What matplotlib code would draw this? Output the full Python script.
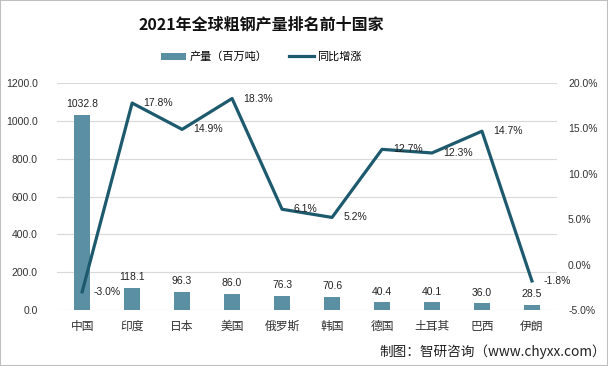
# 2021年全球粗钢产量排名前十国家 - bar + line combo chart

import matplotlib
matplotlib.use('Agg')
import matplotlib.pyplot as plt
from matplotlib.ticker import FuncFormatter
from matplotlib.patches import Rectangle

plt.rcParams['font.family'] = ['Liberation Sans', 'Noto Sans CJK SC', 'DejaVu Sans']

# Data
countries = ['中国', '印度', '日本', '美国', '俄罗斯', '韩国', '德国', '土耳其', '巴西', '伊朗']
production = [1032.8, 118.1, 96.3, 86.0, 76.3, 70.6, 40.4, 40.1, 36.0, 28.5]  # 百万吨
growth = [-3.0, 17.8, 14.9, 18.3, 6.1, 5.2, 12.7, 12.3, 14.7, -1.8]  # %

bar_color = '#5b8fa3'
line_color = '#1d5a6d'
cjk = ['Noto Sans CJK SC', 'DejaVu Sans']

fig = plt.figure(figsize=(6.08, 3.66), dpi=100)
ax1 = fig.add_axes([0.094, 0.153, 0.822, 0.620])
ax2 = ax1.twinx()

x = list(range(len(countries)))

# Bars: production
ax1.bar(x, production, width=0.32, color=bar_color, zorder=2, label='产量（百万吨）')
for xi, v in zip(x, production):
    ax1.annotate(f'{v:.1f}', (xi, v), xytext=(0, 4), textcoords='offset points',
                 ha='center', va='bottom', fontsize=7.5, color='#222222')

ax1.set_xlim(-0.5, len(countries) - 0.5)
ax1.set_ylim(0, 1200)
ax1.set_yticks(range(0, 1201, 200))
ax1.yaxis.set_major_formatter(FuncFormatter(lambda v, p: f'{v:.1f}'))
ax1.grid(axis='y', color='#d9d9d9', linewidth=0.8, zorder=0)
ax1.set_axisbelow(True)
ax1.set_xticks(x)
ax1.set_xticklabels(countries, fontfamily=cjk, fontsize=8.5)

# Line: growth
ax2.plot(x, growth, color=line_color, linewidth=2.3, zorder=3, label='同比增涨')
for xi, v in zip(x, growth):
    ax2.annotate(f'{v:.1f}%', (xi, v), xytext=(8, 0), textcoords='offset points',
                 ha='left', va='center', fontsize=7.5, color='#222222')
ax2.set_ylim(-5, 20)
ax2.set_yticks(range(-5, 21, 5))
ax2.yaxis.set_major_formatter(FuncFormatter(lambda v, p: f'{v:.1f}%'))

for ax in (ax1, ax2):
    for s in ax.spines.values():
        s.set_visible(False)
    ax.tick_params(length=0, labelsize=7.5, colors='#333333')
ax1.tick_params(axis='y', pad=14)
ax2.tick_params(axis='y', pad=8)
ax1.tick_params(axis='x', pad=7, labelsize=8.5)

# Title
fig.text(0.43, 0.932, '2021年全球粗钢产量排名前十国家', ha='center', va='center',
         fontsize=11.5, fontweight='bold', fontfamily=cjk, color='#111111')

# Legend
h1, l1 = ax1.get_legend_handles_labels()
h2, l2 = ax2.get_legend_handles_labels()
leg = fig.legend(h1 + h2, l1 + l2, loc='center', bbox_to_anchor=(0.43, 0.845), ncol=2,
                 frameon=False, prop={'family': cjk, 'size': 8}, handlelength=2.2,
                 handleheight=0.6, columnspacing=2.0, handletextpad=0.3)

# Source note
fig.text(0.996, 0.038, '制图：智研咨询（www.chyxx.com）', ha='right', va='center',
         fontsize=9.8, fontfamily=cjk, color='#222222')

# Figure border
fig.patches.append(Rectangle((0, 0), 1, 1, transform=fig.transFigure, fill=False,
                             edgecolor='#bfbfbf', linewidth=1.5))

fig.savefig('out.png', dpi=100)
